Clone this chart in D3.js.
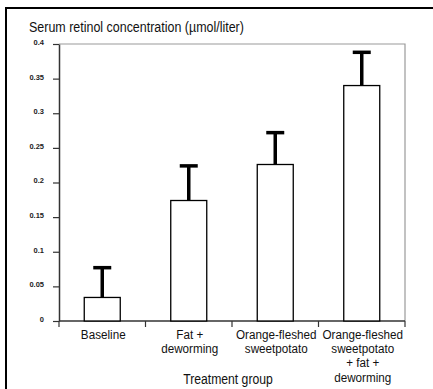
<!DOCTYPE html>
<html><head><meta charset="utf-8">
<script src="https://cdn.jsdelivr.net/npm/d3@7"></script>
<style>
body{margin:0;background:#fff;}
svg{display:block;}
text{font-family:"Liberation Sans",Arial,sans-serif;}
</style></head>
<body>
<svg id="chart" width="433" height="389"></svg>
<script>
const categories = [["Baseline"],["Fat +","deworming"],["Orange-fleshed","sweetpotato"],["Orange-fleshed","sweetpotato","+ fat +","deworming"]];
const means = [0.034, 0.174, 0.226, 0.340];
const upperErr = [0.077, 0.224, 0.272, 0.388];
const yTicks = [0,0.05,0.1,0.15,0.2,0.25,0.3,0.35,0.4];
const yTickLabels = ["0","0.05","0.1","0.15","0.2","0.25","0.3","0.35","0.4"];
const title = "Serum retinol concentration (µmol/liter)";
const xTitle = "Treatment group";

const svg = d3.select("#chart");
const m = {left:59, right:405, top:44, bottom:321};
const x = d3.scaleBand().domain(d3.range(categories.length)).range([m.left,m.right]).paddingInner(0).paddingOuter(0);
const y = d3.scaleLinear().domain([0,0.4]).range([m.bottom,m.top]);

// outer frame
svg.append("path").attr("d","M6,389V8H433").attr("fill","none").attr("stroke","#000").attr("stroke-width",2);

// plot frame top/right
svg.append("path").attr("d",`M${m.left},${m.top}H${m.right}V${m.bottom}`).attr("fill","none").attr("stroke","#9a9a9a").attr("stroke-width",1.2);

// title
svg.append("text").attr("transform",`translate(29,32) scale(0.89,1)`).attr("font-size",14).attr("fill","#111").text(title);

// y axis
const yAxis = svg.append("g").attr("transform",`translate(${m.left},0)`)
  .call(d3.axisLeft(y).tickValues(yTicks).tickFormat((d,i)=>yTickLabels[i]).tickSize(6).tickSizeOuter(0));
yAxis.select(".domain").attr("stroke","#333").attr("stroke-width",1.5);
yAxis.selectAll(".tick line").attr("stroke","#333").attr("stroke-width",1.2);
yAxis.selectAll(".tick text").attr("font-size",7.5).attr("font-weight","bold").attr("x",-15).attr("dy","0.05em").attr("fill","#222");

// x axis line with boundary ticks
svg.append("line").attr("x1",m.left).attr("x2",m.right).attr("y1",m.bottom).attr("y2",m.bottom).attr("stroke","#333").attr("stroke-width",1.5);
const bounds = d3.range(categories.length+1).map(i=> i<categories.length ? x(i) : x(i-1)+x.bandwidth());
svg.selectAll(".xt").data(bounds).join("line").attr("x1",d=>d).attr("x2",d=>d)
  .attr("y1",m.bottom).attr("y2",m.bottom+6).attr("stroke","#333").attr("stroke-width",1.2);

// bars
const bw = 36;
const cx = i => x(i)+x.bandwidth()/2;
svg.selectAll(".bar").data(means).join("rect")
  .attr("x",(d,i)=>cx(i)-bw/2).attr("width",bw)
  .attr("y",d=>y(d)).attr("height",d=>y(0)-y(d))
  .attr("fill","#fff").attr("stroke","#000").attr("stroke-width",1.3);

// error bars
const eb = svg.append("g");
means.forEach((d,i)=>{
  eb.append("line").attr("x1",cx(i)).attr("x2",cx(i)).attr("y1",y(d)).attr("y2",y(upperErr[i])).attr("stroke","#000").attr("stroke-width",3.5);
  eb.append("line").attr("x1",cx(i)-9).attr("x2",cx(i)+9).attr("y1",y(upperErr[i])).attr("y2",y(upperErr[i])).attr("stroke","#000").attr("stroke-width",3.5);
});

// x labels (one text per line)
categories.forEach((lines,i)=>{
  lines.forEach((l,j)=>{
    svg.append("text").attr("text-anchor","middle").attr("font-size",13.5).attr("fill","#111")
      .attr("transform",`translate(${cx(i)+1},${338.5+j*14.4}) scale(0.865,1)`).text(l);
  });
});

svg.append("text").attr("transform",`translate(228,384) scale(0.87,1)`).attr("text-anchor","middle").attr("font-size",14).attr("fill","#111").text(xTitle);
</script>
</body></html>
